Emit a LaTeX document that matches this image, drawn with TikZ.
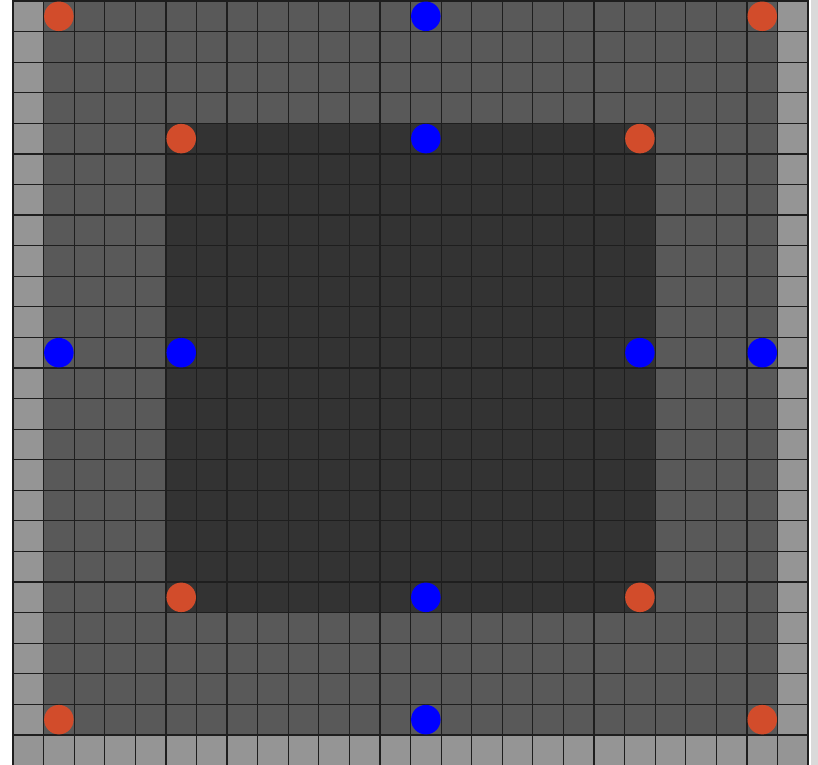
\documentclass[tikz,border=0pt]{standalone}
\usepackage{tikz}
\usetikzlibrary{positioning}
\definecolor{edgegray}{RGB}{149,149,149}
\definecolor{midgray}{RGB}{89,89,89}
\definecolor{coregray}{RGB}{51,51,51}
\definecolor{linegray}{RGB}{30,30,30}
\definecolor{stripgray}{RGB}{218,218,218}
\definecolor{dotred}{RGB}{210,76,43}
\definecolor{dotblue}{RGB}{0,0,255}
\tikzset{
  gridline/.style={draw=linegray,line width=0.7pt},
  dot/.style={circle,inner sep=0pt,minimum size=0.59cm},
  reddot/.style={dot,fill=dotred},
  bluedot/.style={dot,fill=dotblue}
}

\begin{document}
\begin{tikzpicture}[x=0.6116cm,y=-0.6116cm]
  \useasboundingbox (-0.4251,-0.0327) rectangle (26.324,24.951);
  \clip (-0.4251,-0.0327) rectangle (26.324,24.951);
  \fill[white] (-0.4251,-0.0327) rectangle (26.324,24.951);

  % cell fills
  \fill[edgegray] (0,-1) rectangle (26,26);
  \fill[midgray] (1,-1) rectangle (25,24);
  \fill[coregray] (5,4) rectangle (21,20);
  \draw[gridline,step=0.6116cm] (0,-1) grid (26,26);
  \fill[stripgray] (26.08,-1) rectangle (27,26);

  % outer ring
  \node[reddot] (otl) at (1.5,0.5) {};
  \node[bluedot] (otm) at (13.5,0.5) {};
  \node[reddot] (otr) at (24.5,0.5) {};
  \node[bluedot] (oml) at (1.5,11.5) {};
  \node[bluedot] (omr) at (24.5,11.5) {};
  \node[reddot] (obl) at (1.5,23.5) {};
  \node[bluedot] (obm) at (13.5,23.5) {};
  \node[reddot] (obr) at (24.5,23.5) {};

  % inner ring
  \node[reddot] (itl) at (5.5,4.5) {};
  \node[bluedot] (itm) at (13.5,4.5) {};
  \node[reddot] (itr) at (20.5,4.5) {};
  \node[bluedot] (iml) at (5.5,11.5) {};
  \node[bluedot] (imr) at (20.5,11.5) {};
  \node[reddot] (ibl) at (5.5,19.5) {};
  \node[bluedot] (ibm) at (13.5,19.5) {};
  \node[reddot] (ibr) at (20.5,19.5) {};
\end{tikzpicture}
\end{document}
